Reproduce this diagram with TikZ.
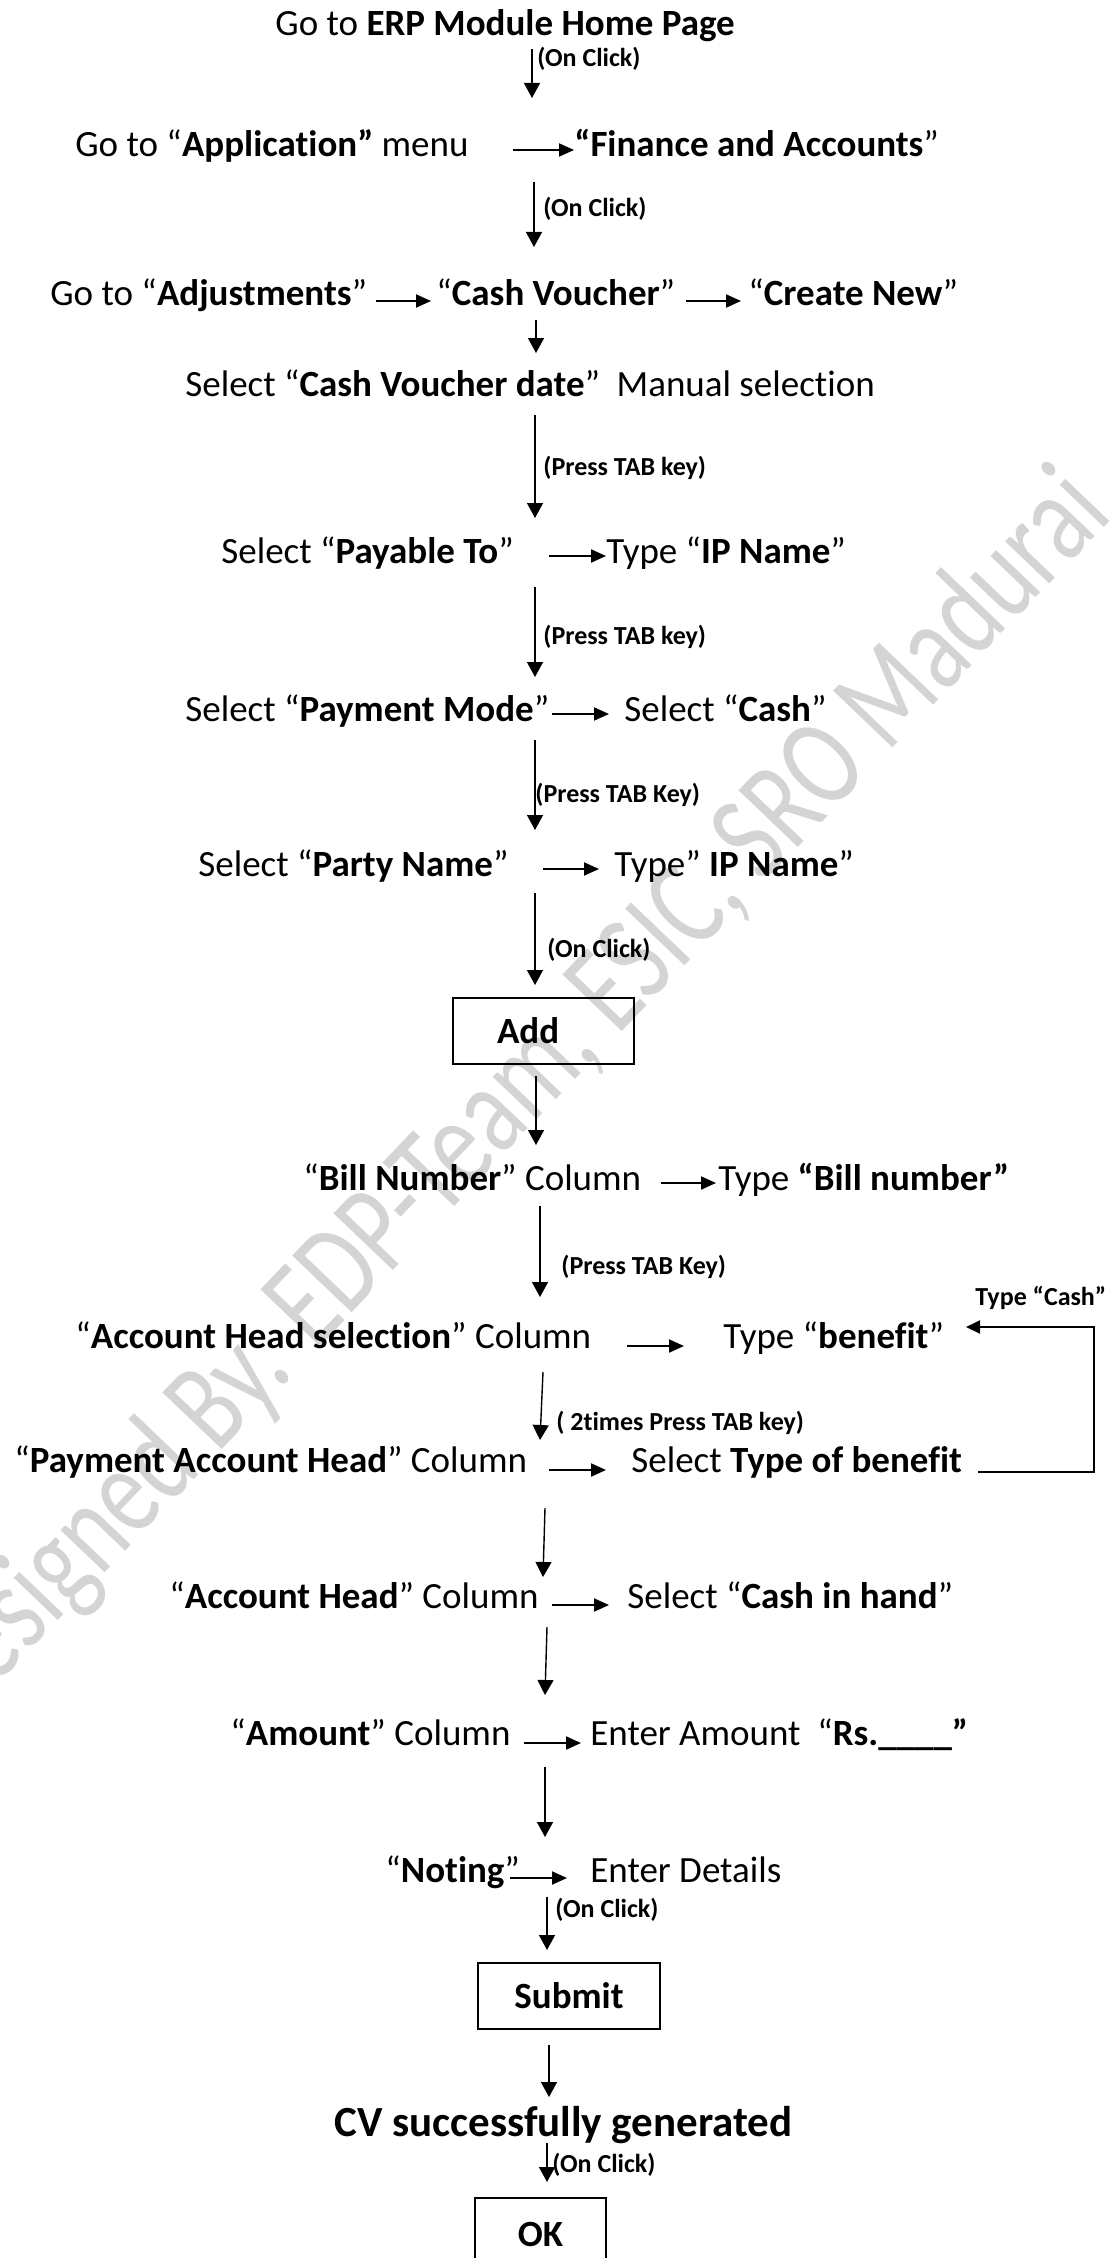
\documentclass[tikz,border=0pt]{standalone}
\usepackage{fontspec}
\setmainfont{Carlito}[Ligatures={NoCommon}]
\usetikzlibrary{arrows.meta}
\begin{document}
\begin{tikzpicture}[x=0.5pt,y=-0.5pt,
  txt/.style={inner sep=0pt, anchor=base west, font=\fontsize{18.5}{22}\selectfont},
  lbl/.style={inner sep=0pt, anchor=base west, font=\fontsize{13}{15}\selectfont\bfseries},
  bigtxt/.style={inner sep=0pt, anchor=base west, font=\fontsize{21.5}{25}\selectfont\bfseries},
  varrow/.style={line width=0.7pt, -{Triangle[length=7.5pt,width=8pt]}},
  harrow/.style={line width=1pt, -{Triangle[length=7.5pt,width=6.5pt]}},
  loopline/.style={line width=1pt, -{Triangle[length=7pt,width=6.5pt]}},
  btn/.style={draw, line width=1.1pt, inner sep=0pt, font=\fontsize{18.5}{22}\selectfont\bfseries},
  wm/.style={inner sep=0pt, text=black!17, font=\fontsize{64}{70}\selectfont, rotate=46.3, xscale=0.75}
]
\useasboundingbox (0,0) rectangle (1112,2258);
% watermark
\node[wm] (wmark) at (510,1100) {Designed By. EDP-Team, ESIC, SRO Madurai};

% row 1
\node[txt] (r1) at (275,36) {Go to \textbf{ERP Module Home Page}};
\coordinate (a1s) at (532,49); \coordinate (a1e) at (532,98);
\draw[varrow] (a1s) -- (a1e);
\node[lbl] (l1) at (537,67) {(On Click)};

% row 2
\node[txt] (r2a) at (75,157) {Go to “\textbf{Application”} menu};
\coordinate (h2s) at (513,150); \coordinate (h2e) at (574,150);
\draw[harrow] (h2s) -- (h2e);
\node[txt] (r2b) at (574,157) {\textbf{“Finance and Accounts}”};
\coordinate (a2s) at (534,182); \coordinate (a2e) at (534,247);
\draw[varrow] (a2s) -- (a2e);
\node[lbl] (l2) at (543,217) {(On Click)};

% row 3
\node[txt] (r3a) at (50,306) {Go to “\textbf{Adjustments}”};
\coordinate (h3s) at (376,301); \coordinate (h3e) at (431,301);
\draw[harrow] (h3s) -- (h3e);
\node[txt] (r3b) at (436,306) {“\textbf{Cash Voucher}”};
\coordinate (h3bs) at (686,301); \coordinate (h3be) at (741,301);
\draw[harrow] (h3bs) -- (h3be);
\node[txt] (r3c) at (748,306) {“\textbf{Create New}”};
\coordinate (a3s) at (536,320); \coordinate (a3e) at (536,353);
\draw[varrow] (a3s) -- (a3e);

% row 4
\node[txt] (r4) at (185,396) {Select “\textbf{Cash Voucher date}”\hspace{0.45em}Manual selection};
\coordinate (a4s) at (535,415); \coordinate (a4e) at (535,518);
\draw[varrow] (a4s) -- (a4e);
\node[lbl] (l4) at (543,475) {(Press TAB key)};

% row 5
\node[txt] (r5a) at (221,563) {Select “\textbf{Payable To}”};
\coordinate (h5s) at (549,556); \coordinate (h5e) at (606,556);
\draw[harrow] (h5s) -- (h5e);
\node[txt] (r5b) at (606,563) {Type “\textbf{IP Name}”};
\coordinate (a5s) at (535,587); \coordinate (a5e) at (535,677);
\draw[varrow] (a5s) -- (a5e);
\node[lbl] (l5) at (543,644) {(Press TAB key)};

% row 6
\node[txt] (r6a) at (185,721) {Select “\textbf{Payment Mode}”};
\coordinate (h6s) at (552,714); \coordinate (h6e) at (609,714);
\draw[harrow] (h6s) -- (h6e);
\node[txt] (r6b) at (624,721) {Select “\textbf{Cash}”};
\coordinate (a6s) at (535,740); \coordinate (a6e) at (535,830);
\draw[varrow] (a6s) -- (a6e);
\node[lbl] (l6) at (535,802) {(Press TAB Key)};

% row 7
\node[txt] (r7a) at (198,876) {Select “\textbf{Party Name}”};
\coordinate (h7s) at (543,869); \coordinate (h7e) at (599,869);
\draw[harrow] (h7s) -- (h7e);
\node[txt] (r7b) at (614,876) {Type” \textbf{IP Name}”};
\coordinate (a7s) at (535,893); \coordinate (a7e) at (535,985);
\draw[varrow] (a7s) -- (a7e);
\node[lbl] (l7) at (547,957) {(On Click)};

% Add button
\node[btn, text width=46.5pt, inner xsep=22pt, align=left, minimum height=33pt] (add) at (543.5,1031) {Add};
\coordinate (a8s) at (536,1076); \coordinate (a8e) at (536,1145);
\draw[varrow] (a8s) -- (a8e);

% row 9
\node[txt] (r9a) at (303,1190) {“\textbf{Bill Number}” Column};
\coordinate (h9s) at (661,1183); \coordinate (h9e) at (716,1183);
\draw[harrow] (h9s) -- (h9e);
\node[txt] (r9b) at (718,1190) {Type \textbf{“Bill number”}};
\coordinate (a9s) at (540,1206); \coordinate (a9e) at (540,1297);
\draw[varrow] (a9s) -- (a9e);
\node[lbl] (l9) at (561,1274) {(Press TAB Key)};

% row 10
\node[lbl] (lcash) at (975,1305) {Type “Cash”};
\node[txt] (r10a) at (75,1348) {“\textbf{Account Head selection}” Column};
\coordinate (h10s) at (627,1346); \coordinate (h10e) at (684,1346);
\draw[harrow] (h10s) -- (h10e);
\node[txt] (r10b) at (723,1348) {Type “\textbf{benefit}”};
\coordinate (a10s) at (543,1372); \coordinate (a10e) at (540,1440);
\draw[varrow] (a10s) -- (a10e);
\node[lbl] (l10) at (556,1430) {( 2times Press TAB key)};

% row 11
\node[txt] (r11a) at (14,1472) {“\textbf{Payment Account Head}” Column};
\coordinate (h11s) at (549,1470); \coordinate (h11e) at (606,1470);
\draw[harrow] (h11s) -- (h11e);
\node[txt] (r11b) at (631,1472) {Select \textbf{Type of benefit}};
\coordinate (lp1) at (978,1472); \coordinate (lp2) at (1094,1472);
\coordinate (lp3) at (1094,1327); \coordinate (lp4) at (966,1327);
\draw[loopline] (lp1) -- (lp2) -- (lp3) -- (lp4);
\coordinate (a11s) at (545,1508); \coordinate (a11e) at (543,1577);
\draw[varrow] (a11s) -- (a11e);

% row 12
\node[txt] (r12a) at (169,1608) {“\textbf{Account Head}” Column};
\coordinate (h12s) at (552,1605); \coordinate (h12e) at (609,1605);
\draw[harrow] (h12s) -- (h12e);
\node[txt] (r12b) at (627,1608) {Select “\textbf{Cash in hand}”};
\coordinate (a12s) at (547,1627); \coordinate (a12e) at (545,1695);
\draw[varrow] (a12s) -- (a12e);

% row 13
\node[txt] (r13a) at (230,1745) {“\textbf{Amount}” Column};
\coordinate (h13s) at (524,1743); \coordinate (h13e) at (581,1743);
\draw[harrow] (h13s) -- (h13e);
\node[txt] (r13b) at (590,1745) {Enter Amount\hspace{0.45em}“\textbf{Rs.\_\_\_\_”}};
\coordinate (a13s) at (545,1767); \coordinate (a13e) at (545,1837);
\draw[varrow] (a13s) -- (a13e);

% row 14
\node[txt] (r14a) at (385,1882) {“\textbf{Noting}”};
\coordinate (h14s) at (510,1878); \coordinate (h14e) at (567,1878);
\draw[harrow] (h14s) -- (h14e);
\node[txt] (r14b) at (590,1882) {Enter Details};
\coordinate (a14s) at (547,1897); \coordinate (a14e) at (547,1950);
\draw[varrow] (a14s) -- (a14e);
\node[lbl] (l14) at (555,1917) {(On Click)};

% Submit
\node[btn, minimum width=91pt, minimum height=33pt] (submit) at (569,1996) {Submit};
\coordinate (a15s) at (549,2045); \coordinate (a15e) at (549,2097);
\draw[varrow] (a15s) -- (a15e);

% CV generated
\node[bigtxt] (cv) at (334,2136) {CV successfully generated};
\coordinate (a16s) at (547,2143); \coordinate (a16e) at (547,2182);
\draw[varrow] (a16s) -- (a16e);
\node[lbl] (l16) at (552,2172) {(On Click)};

% OK
\node[btn, minimum width=65.5pt, minimum height=36pt] (ok) at (540.5,2234) {OK};
\end{tikzpicture}
\end{document}
